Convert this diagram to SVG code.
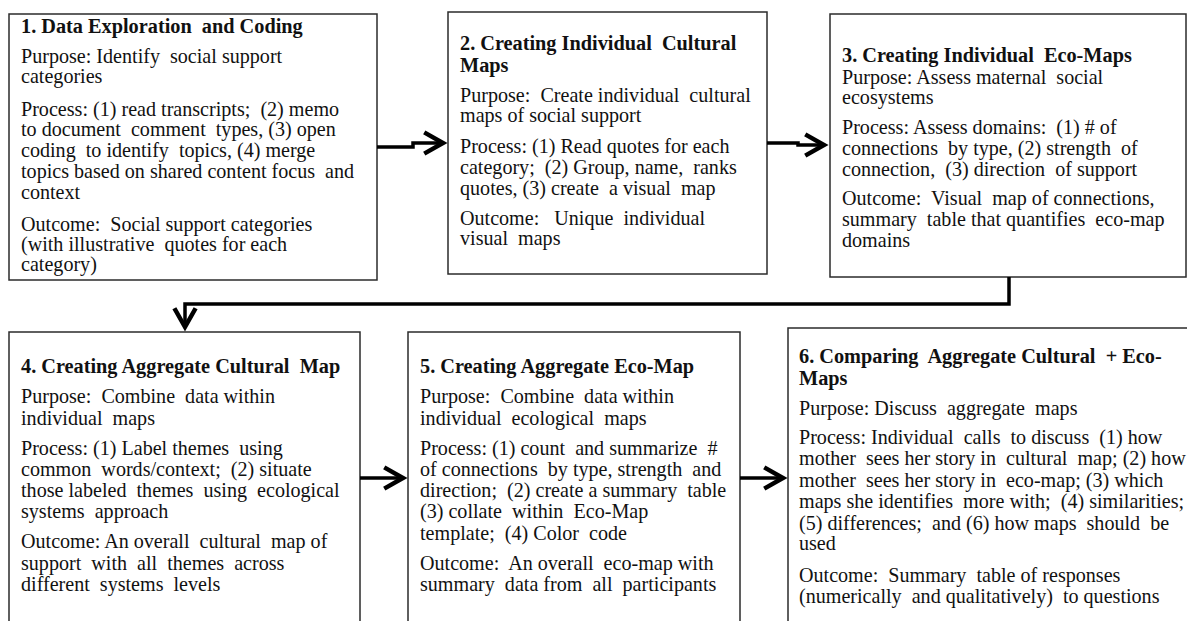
<svg xmlns="http://www.w3.org/2000/svg" width="1187" height="621" viewBox="0 0 1187 621">
  <style>
    .box { fill: #ffffff; stroke: #2b2b2b; stroke-width: 1.5; }
    text { font-family: "Liberation Serif", "Times New Roman", serif; font-size: 20.1px; fill: #111111; white-space: pre; }
    .title { font-weight: bold; font-size: 20.3px; }
    .link { fill: none; stroke: #000000; stroke-width: 3.5; stroke-linejoin: miter; }
    .head { fill: none; stroke: #000000; stroke-width: 3.6; stroke-linejoin: miter; stroke-linecap: butt; }
  </style>
  <defs>
    <!-- open chevron arrowhead shared by all connectors -->
    <marker id="chevron" markerUnits="userSpaceOnUse" markerWidth="30" markerHeight="30" viewBox="-20 -12 24 24" refX="0" refY="0" orient="auto" overflow="visible">
      <path class="head" d="M-15,-8.5 L0,0 L-15,8.5"/>
    </marker>
  </defs>
  <rect width="1187" height="621" fill="#ffffff"/>

  <!-- Step 1 -->
  <g id="step1">
    <rect class="box" x="9" y="14" width="368" height="266"/>
    <text class="title" x="21" y="33">1. Data Exploration  and Coding</text>
    <text x="21" y="63">Purpose: Identify  social support</text>
    <text x="21" y="83">categories</text>
    <text x="21" y="116">Process: (1) read transcripts;  (2) memo</text>
    <text x="21" y="136">to document  comment  types, (3) open</text>
    <text x="21" y="157">coding  to identify  topics, (4) merge</text>
    <text x="21" y="178">topics based on shared content focus  and</text>
    <text x="21" y="199">context</text>
    <text x="21" y="231">Outcome:  Social support categories</text>
    <text x="21" y="251">(with illustrative  quotes for each</text>
    <text x="21" y="271">category)</text>
  </g>

  <!-- Step 2 -->
  <g id="step2">
    <rect class="box" x="448" y="12" width="319" height="262"/>
    <text class="title" x="460" y="50">2. Creating Individual  Cultural</text>
    <text class="title" x="460" y="72">Maps</text>
    <text x="460" y="102">Purpose:  Create individual  cultural</text>
    <text x="460" y="122">maps of social support</text>
    <text x="460" y="153">Process: (1) Read quotes for each</text>
    <text x="460" y="174">category;  (2) Group, name,  ranks</text>
    <text x="460" y="195">quotes, (3) create  a visual  map</text>
    <text x="460" y="225">Outcome:   Unique  individual</text>
    <text x="460" y="245">visual  maps</text>
  </g>

  <!-- Step 3 -->
  <g id="step3">
    <rect class="box" x="830" y="14" width="356" height="263"/>
    <text class="title" x="842" y="62">3. Creating Individual  Eco-Maps</text>
    <text x="842" y="84">Purpose: Assess maternal  social</text>
    <text x="842" y="104">ecosystems</text>
    <text x="842" y="134">Process: Assess domains:  (1) # of</text>
    <text x="842" y="155">connections  by type, (2) strength  of</text>
    <text x="842" y="176">connection,  (3) direction  of support</text>
    <text x="842" y="205">Outcome:  Visual  map of connections,</text>
    <text x="842" y="226">summary  table that quantifies  eco-map</text>
    <text x="842" y="247">domains</text>
  </g>

  <!-- Step 4 -->
  <g id="step4">
    <rect class="box" x="9" y="332" width="351" height="300"/>
    <text class="title" x="21" y="373">4. Creating Aggregate Cultural  Map</text>
    <text x="21" y="403">Purpose:  Combine  data within</text>
    <text x="21" y="425">individual  maps</text>
    <text x="21" y="455">Process: (1) Label themes  using</text>
    <text x="21" y="476">common  words/context;  (2) situate</text>
    <text x="21" y="497">those labeled  themes  using  ecological</text>
    <text x="21" y="518">systems  approach</text>
    <text x="21" y="548">Outcome: An overall  cultural  map of</text>
    <text x="21" y="570">support  with  all  themes  across</text>
    <text x="21" y="591">different  systems  levels</text>
  </g>

  <!-- Step 5 -->
  <g id="step5">
    <rect class="box" x="408" y="332" width="332" height="300"/>
    <text class="title" x="420" y="373">5. Creating Aggregate Eco-Map</text>
    <text x="420" y="403">Purpose:  Combine  data within</text>
    <text x="420" y="425">individual  ecological  maps</text>
    <text x="420" y="455">Process: (1) count  and summarize  #</text>
    <text x="420" y="476">of connections  by type, strength  and</text>
    <text x="420" y="497">direction;  (2) create a summary  table</text>
    <text x="420" y="518">(3) collate  within  Eco-Map</text>
    <text x="420" y="540">template;  (4) Color  code</text>
    <text x="420" y="570">Outcome:  An overall  eco-map with</text>
    <text x="420" y="591">summary  data from  all  participants</text>
  </g>

  <!-- Step 6 -->
  <g id="step6">
    <rect class="box" x="788" y="328" width="410" height="304"/>
    <text class="title" x="799" y="363">6. Comparing  Aggregate Cultural  + Eco-</text>
    <text class="title" x="799" y="385">Maps</text>
    <text x="799" y="415">Purpose: Discuss  aggregate  maps</text>
    <text x="799" y="444">Process: Individual  calls  to discuss  (1) how</text>
    <text x="799" y="465">mother  sees her story in  cultural  map; (2) how</text>
    <text x="799" y="487">mother  sees her story in  eco-map; (3) which</text>
    <text x="799" y="508">maps she identifies  more with;  (4) similarities;</text>
    <text x="799" y="530">(5) differences;  and (6) how maps  should  be</text>
    <text x="799" y="550">used</text>
    <text x="799" y="582">Outcome:  Summary  table of responses</text>
    <text x="799" y="603">(numerically  and qualitatively)  to questions</text>
  </g>

  <!-- Connectors -->
  <g id="connectors">
    <path class="link" d="M377,147 H413 V143 H443" marker-end="url(#chevron)"/>
    <path class="link" d="M767,143 H798 V145 H824" marker-end="url(#chevron)"/>
    <path class="link" d="M1009,277 V304 H185 V327" marker-end="url(#chevron)"/>
    <path class="link" d="M360,478 H403" marker-end="url(#chevron)"/>
    <path class="link" d="M740,478 H783" marker-end="url(#chevron)"/>
  </g>
</svg>
